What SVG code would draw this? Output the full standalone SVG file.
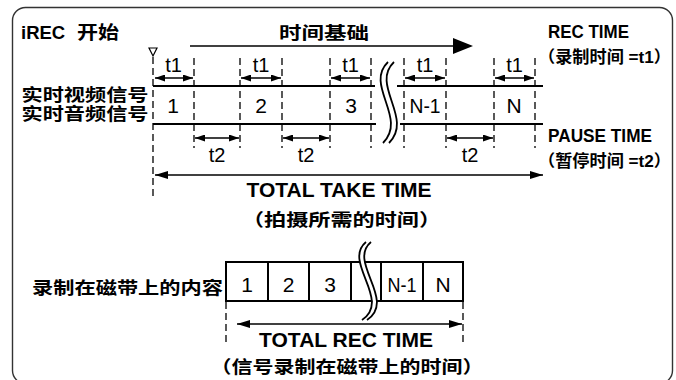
<svg xmlns="http://www.w3.org/2000/svg" width="676" height="380" viewBox="0 0 676 380">
<defs>
<style>
.b{font-family:"Liberation Sans","Noto Sans CJK SC",sans-serif;font-weight:700;fill:#000}
.c{font-family:"Liberation Sans","Noto Sans CJK SC",sans-serif;font-weight:700;font-size:17.5px;fill:#000}
.num{font-family:"Liberation Sans",Arial,sans-serif;font-size:21px;fill:#000;text-anchor:middle}
.t{font-family:"Liberation Sans",Arial,sans-serif;font-size:20px;fill:#000;text-anchor:middle}
.sig{stroke:#000;stroke-width:2.2;fill:none}
.dash{stroke:#000;stroke-width:1.3;stroke-dasharray:7 4;fill:none}
.dim{stroke:#000;stroke-width:1.4;fill:none;marker-start:url(#ah);marker-end:url(#ah)}
.dimL{stroke:#000;stroke-width:1.5;fill:none;marker-start:url(#ahL);marker-end:url(#ahL)}
.brk{stroke:#000;stroke-width:1.8;fill:none}
.box{stroke:#000;stroke-width:2;fill:#fff}
</style>
<marker id="ah" markerUnits="userSpaceOnUse" markerWidth="10" markerHeight="7" viewBox="0 0 10 7" refX="10" refY="3.5" orient="auto-start-reverse"><path d="M0,0 L10,3.5 L0,7 Z" fill="#000"/></marker>
<marker id="ahL" markerUnits="userSpaceOnUse" markerWidth="13" markerHeight="8" viewBox="0 0 13 8" refX="13" refY="4" orient="auto-start-reverse"><path d="M0,0 L13,4 L0,8 Z" fill="#000"/></marker>
</defs>
<rect x="0" y="0" width="676" height="380" fill="#fff"/>
<rect x="12.5" y="7.5" width="660" height="376" rx="13" fill="none" stroke="#333" stroke-width="1.4"/>

<g id="title">
<text class="b" x="21" y="38.5" font-size="18.5">iREC <tspan x="77" textLength="42" lengthAdjust="spacingAndGlyphs">开始</tspan></text>
</g>

<g id="time-axis">
<text class="b" x="279" y="38.5" font-size="17" textLength="90" lengthAdjust="spacingAndGlyphs">时间基础</text>
<line x1="190" y1="46" x2="455" y2="46" stroke="#000" stroke-width="1.5"/>
<polygon points="453,38 473,46 453,54" fill="#000"/>
</g>

<g id="start-marker">
<polygon points="149,48 157,48 153,56" fill="#fff" stroke="#000" stroke-width="1.2"/>
</g>

<g id="signal-labels">
<text class="c" x="21.5" y="101" font-size="16.5" textLength="127" lengthAdjust="spacingAndGlyphs">实时视频信号</text>
<text class="c" x="21.5" y="119.5" font-size="16.5" textLength="127" lengthAdjust="spacingAndGlyphs">实时音频信号</text>
</g>

<g id="signal-lines">
<line class="sig" x1="153" y1="86" x2="375" y2="86"/>
<line class="sig" x1="397" y1="86" x2="543" y2="86"/>
<line class="sig" x1="153" y1="124" x2="376" y2="124"/>
<line class="sig" x1="400" y1="124" x2="543" y2="124"/>
<path class="brk" d="M388 62 C364 85, 408 118, 383 143"/>
<path class="brk" d="M394 62 C370 85, 414 118, 389 143"/>
</g>

<g id="segments">
<text class="num" x="173" y="113">1</text>
<text class="num" x="261" y="113">2</text>
<text class="num" x="351" y="113">3</text>
<text class="num" x="425" y="113" textLength="31" lengthAdjust="spacingAndGlyphs">N-1</text>
<text class="num" x="514" y="113">N</text>
</g>

<g id="durations">
<text class="t" x="173.5" y="72">t1</text>
<text class="t" x="261" y="72">t1</text>
<text class="t" x="350.5" y="72">t1</text>
<text class="t" x="425" y="72">t1</text>
<text class="t" x="514.5" y="72">t1</text>
<text class="t" x="217" y="162">t2</text>
<text class="t" x="306" y="162">t2</text>
<text class="t" x="470" y="162">t2</text>
</g>

<g id="legend">
<text class="b" x="548" y="37.5" font-size="17.5" textLength="81" lengthAdjust="spacingAndGlyphs">REC TIME</text>
<text class="b" x="538" y="62.5" font-size="16.5" textLength="133" lengthAdjust="spacingAndGlyphs">（录制时间 =t1）</text>
<text class="b" x="548" y="142" font-size="17.5" textLength="104" lengthAdjust="spacingAndGlyphs">PAUSE TIME</text>
<text class="b" x="538" y="166.5" font-size="16.5" textLength="133" lengthAdjust="spacingAndGlyphs">（暂停时间 =t2）</text>
</g>

<g id="total-take-label">
<text class="b" x="339" y="197" font-size="21" text-anchor="middle">TOTAL TAKE TIME</text>
<text class="c" x="242" y="225.5" textLength="199" lengthAdjust="spacingAndGlyphs">（拍摄所需的时间）</text>
</g>

<g id="tape">
<text class="c" x="32" y="293.5" textLength="191" lengthAdjust="spacingAndGlyphs">录制在磁带上的内容</text>
<rect class="box" x="226" y="262" width="237" height="39"/>
<line x1="268" y1="262" x2="268" y2="301" stroke="#000" stroke-width="2"/>
<line x1="309" y1="262" x2="309" y2="301" stroke="#000" stroke-width="2"/>
<line x1="351" y1="262" x2="351" y2="301" stroke="#000" stroke-width="2"/>
<line x1="381" y1="262" x2="381" y2="301" stroke="#000" stroke-width="2"/>
<line x1="423" y1="262" x2="423" y2="301" stroke="#000" stroke-width="2"/>
<path d="M368.5 242 C344.5 262, 394.5 300, 364.5 320" stroke="#fff" stroke-width="4" fill="none"/>
<path class="brk" d="M366 242 C342 262, 392 300, 362 320"/>
<path class="brk" d="M371 242 C347 262, 397 300, 367 320"/>
<text class="num" x="247" y="292">1</text>
<text class="num" x="288.5" y="292">2</text>
<text class="num" x="330" y="292">3</text>
<text class="num" x="402" y="292" textLength="29" lengthAdjust="spacingAndGlyphs">N-1</text>
<text class="num" x="443" y="292">N</text>
</g>

<g id="total-rec-label">
<text class="b" x="346" y="347" font-size="21" text-anchor="middle">TOTAL REC TIME</text>
<text class="c" x="210.5" y="372.5" textLength="273" lengthAdjust="spacingAndGlyphs">（信号录制在磁带上的时间）</text>
</g>

<g id="connectors">
<line class="dash" x1="153" y1="57" x2="153" y2="196"/>
<line class="dash" x1="194" y1="58" x2="194" y2="148"/>
<line class="dash" x1="240" y1="58" x2="240" y2="148"/>
<line class="dash" x1="282" y1="58" x2="282" y2="148"/>
<line class="dash" x1="330" y1="58" x2="330" y2="148"/>
<line class="dash" x1="371" y1="58" x2="371" y2="148"/>
<line class="dash" x1="404" y1="58" x2="404" y2="148"/>
<line class="dash" x1="446" y1="58" x2="446" y2="148"/>
<line class="dash" x1="494" y1="58" x2="494" y2="148"/>
<line class="dash" x1="535" y1="58" x2="535" y2="148"/>
<line class="dim" x1="155" y1="78" x2="193" y2="78"/>
<line class="dim" x1="241" y1="78" x2="281" y2="78"/>
<line class="dim" x1="331" y1="78" x2="370" y2="78"/>
<line class="dim" x1="405" y1="78" x2="445" y2="78"/>
<line class="dim" x1="495" y1="78" x2="534" y2="78"/>
<line class="dim" x1="195" y1="138" x2="239" y2="138"/>
<line class="dim" x1="283" y1="138" x2="329" y2="138"/>
<line class="dim" x1="447" y1="138" x2="493" y2="138"/>
<line class="dimL" x1="155" y1="175" x2="543" y2="175"/>
<line class="dash" x1="226" y1="302" x2="226" y2="344"/>
<line class="dash" x1="463" y1="302" x2="463" y2="344"/>
<line class="dimL" x1="237" y1="324" x2="462" y2="324"/>
</g>
</svg>
